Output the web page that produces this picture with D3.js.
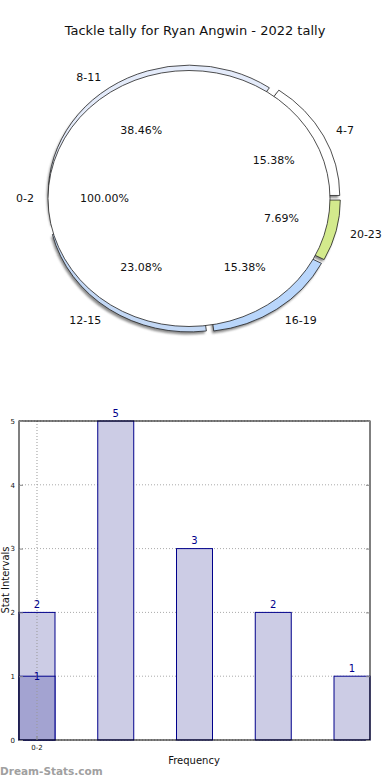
<!DOCTYPE html>
<html>
<head>
<meta charset="utf-8">
<script src="https://cdn.jsdelivr.net/npm/d3@7"></script>
<style>
  html, body { margin: 0; padding: 0; background: #fff; }
  svg { display: block; font-family: "DejaVu Sans", sans-serif; }
</style>
</head>
<body>
<svg id="chart" width="390" height="780"></svg>
<script>
// ---- data ----
const title = "Tackle tally for Ryan Angwin - 2022 tally";
const baseLabel = ["0-2"];
const baseValue = [1];
const intervals = ["4-7", "8-11", "12-15", "16-19", "20-23"];
const counts = [2, 5, 3, 2, 1];
const overlayCounts = [1];          // darker bar at 0-2
const yTicks = [0, 1, 2, 3, 4, 5];
const xTickLabels = ["0-2"];
const sliceColors = ["#ffffff", "#e4ebfa", "#c3d8f5", "#b9d6fb", "#d3ea8c"];

(function () {
const svg = d3.select("#chart");

svg.append("text").attr("x", 195).attr("y", 35).attr("text-anchor", "middle")
  .attr("font-size", 13).attr("fill", "#111").text(title);

// ---- pie ----
const cx = 189, cy = 198.5, rx = 141, ry = 128;
const shiftX = 4, explode = 6.5;
const defs = svg.append("defs");
defs.append("filter").attr("id", "blur").attr("x", "-5%").attr("y", "-5%")
  .attr("width", "110%").attr("height", "110%")
  .append("feGaussianBlur").attr("stdDeviation", 1);

const pie = d3.pie().sort(null).startAngle(Math.PI / 2).endAngle(Math.PI / 2 - 2 * Math.PI);
const arcUnit = d3.arc().innerRadius(0).outerRadius(1);
const slices = pie(counts);
const baseSlices = pie(baseValue);
const total = d3.sum(counts);

function mid(d) { return (d.startAngle + d.endAngle) / 2; }
function center(d, sx) {
  const m = mid(d);
  return [cx + sx + explode * Math.sin(m), cy - explode * Math.cos(m)];
}
function pt(c, m, f) { return [c[0] + Math.sin(m) * rx * f, c[1] - Math.cos(m) * ry * f]; }

const pieG = svg.append("g");
// shadows (blur applied on an unscaled group)
pieG.append("g").attr("filter", "url(#blur)").attr("opacity", 0.75)
  .selectAll("path").data(slices).join("path")
  .attr("d", arcUnit)
  .attr("transform", d => { const c = center(d, shiftX); return `translate(${c[0] - 1.5},${c[1] + 2.5}) scale(${rx},${ry})`; })
  .attr("fill", "#666");
// slices
pieG.selectAll(".slice").data(slices).join("path")
  .attr("class", "slice")
  .attr("d", arcUnit)
  .attr("transform", d => { const c = center(d, shiftX); return `translate(${c[0]},${c[1]}) scale(${rx},${ry})`; })
  .attr("fill", (d, i) => sliceColors[i])
  .attr("stroke", "#222").attr("stroke-width", 0.8).attr("vector-effect", "non-scaling-stroke");
// base full slice (0-2)
pieG.selectAll(".base").data(baseSlices).join("path")
  .attr("class", "base")
  .attr("d", arcUnit)
  .attr("transform", `translate(${cx},${cy}) scale(${rx},${ry})`)
  .attr("fill", "#fff").attr("stroke", "#222").attr("stroke-width", 0.8)
  .attr("vector-effect", "non-scaling-stroke");

function addLabels(data, labels, sx, pctFn) {
  data.forEach((d, i) => {
    const c = sx === null ? [cx, cy] : center(d, sx);
    const m = mid(d);
    const lp = pt(c, m, 1.1);
    const pp = pt(c, m, 0.6);
    const anchor = Math.sin(m) < -1e-6 ? "end" : (Math.sin(m) > 1e-6 ? "start" : "middle");
    pieG.append("text").attr("x", lp[0]).attr("y", lp[1]).attr("dy", "0.35em")
      .attr("text-anchor", anchor).attr("font-size", 11).attr("fill", "#111").text(labels[i]);
    pieG.append("text").attr("x", pp[0]).attr("y", pp[1]).attr("dy", "0.35em")
      .attr("text-anchor", "middle").attr("font-size", 11).attr("fill", "#111").text(pctFn(d));
  });
}
addLabels(baseSlices, baseLabel, null, d => (100).toFixed(2) + "%");
addLabels(slices, intervals, shiftX, d => (d.value / total * 100).toFixed(2) + "%");

// ---- bar chart ----
const pLeft = 19, pRight = 370, pTop = 421, pBottom = 740;
const x = d3.scaleBand().domain(d3.range(counts.length)).range([pLeft, pRight])
  .paddingInner(0.543).paddingOuter(0);
const y = d3.scaleLinear().domain([0, 5]).range([pBottom, pTop]);
const bg = svg.append("g");

// horizontal grid
bg.selectAll(".hgrid").data(yTicks).join("line")
  .attr("x1", pLeft).attr("x2", pRight).attr("y1", d => y(d)).attr("y2", d => y(d))
  .attr("stroke", "#aaa").attr("stroke-width", 1).attr("stroke-dasharray", "1,2");

// bars
bg.selectAll(".bar").data(counts).join("rect")
  .attr("x", (d, i) => x(i)).attr("width", x.bandwidth())
  .attr("y", d => y(d)).attr("height", d => pBottom - y(d))
  .attr("fill", "#ccccE5").attr("stroke", "#00008b").attr("stroke-width", 1);
bg.selectAll(".obar").data(overlayCounts).join("rect")
  .attr("x", (d, i) => x(i)).attr("width", x.bandwidth())
  .attr("y", d => y(d)).attr("height", d => pBottom - y(d))
  .attr("fill", "#a3a3d1").attr("stroke", "#00008b").attr("stroke-width", 1);

// vertical grid at x tick
bg.selectAll(".vgrid").data(xTickLabels).join("line")
  .attr("x1", (d, i) => x(i) + x.bandwidth() / 2).attr("x2", (d, i) => x(i) + x.bandwidth() / 2)
  .attr("y1", pTop).attr("y2", pBottom)
  .attr("stroke", "#999").attr("stroke-width", 1).attr("stroke-dasharray", "1,2");

// value labels
bg.selectAll(".vlab").data(counts).join("text")
  .attr("x", (d, i) => x(i) + x.bandwidth() / 2).attr("y", d => y(d) - 4.5)
  .attr("text-anchor", "middle").attr("font-size", 10).attr("fill", "#00008b").text(d => d);
bg.selectAll(".olab").data(overlayCounts).join("text")
  .attr("x", (d, i) => x(i) + x.bandwidth() / 2).attr("y", d => y(d) + 4)
  .attr("text-anchor", "middle").attr("font-size", 10).attr("fill", "#00008b").text(d => d);

// frame
bg.append("rect").attr("x", pLeft).attr("y", pTop).attr("width", pRight - pLeft).attr("height", pBottom - pTop)
  .attr("fill", "none").attr("stroke", "#000").attr("stroke-width", 1);

// y axis
const yAxis = d3.axisLeft(y).tickValues(yTicks).tickFormat(d3.format("d")).tickSize(-4).tickPadding(4);
const ya = bg.append("g").attr("transform", `translate(${pLeft},0)`).call(yAxis);
ya.select(".domain").remove();
ya.selectAll("text").attr("font-size", 7).attr("font-family", "DejaVu Sans").attr("fill", "#111");
ya.selectAll("line").attr("stroke", "#888");
const yAxisR = d3.axisRight(y).tickValues(yTicks).tickSize(-4).tickFormat("");
const yr = bg.append("g").attr("transform", `translate(${pRight},0)`).call(yAxisR);
yr.select(".domain").remove();
yr.selectAll("line").attr("stroke", "#888");

// x axis
const xAxis = d3.axisBottom(x).tickValues([0]).tickFormat((d, i) => xTickLabels[i]).tickSize(-4).tickPadding(5);
const xa = bg.append("g").attr("transform", `translate(0,${pBottom})`).call(xAxis);
xa.select(".domain").remove();
xa.selectAll("text").attr("font-size", 7).attr("font-family", "DejaVu Sans").attr("fill", "#111");
xa.selectAll("line").attr("stroke", "#888");

// axis titles
svg.append("text").attr("x", 194).attr("y", 764).attr("text-anchor", "middle")
  .attr("font-size", 10).attr("fill", "#111").text("Frequency");
svg.append("text").attr("transform", "translate(8.5,580) rotate(-90)").attr("text-anchor", "middle")
  .attr("font-size", 10).attr("fill", "#111").text("Stat Intervals");

// watermark
svg.append("text").attr("x", 0).attr("y", 775).attr("font-size", 10.5).attr("font-weight", "bold")
  .attr("fill", "#a0a0a0").text("Dream-Stats.com");
})();
</script>
</body>
</html>
